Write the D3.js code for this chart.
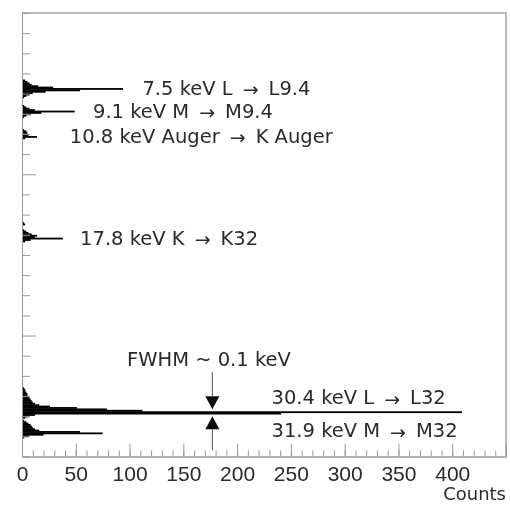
<!DOCTYPE html>
<html>
<head>
<meta charset="utf-8">
<script src="https://cdn.jsdelivr.net/npm/d3@7"></script>
<style>
  body { margin: 0; background: #fff; }
  svg text { font-family: "DejaVu Sans", sans-serif; fill: #2a2a2a; }
  svg .tick text { font-family: "Liberation Sans", Arial, sans-serif; }
</style>
</head>
<body>
<svg width="510" height="505"></svg>
<script>
"use strict";

/* Peak data: histogram bins of 0.1 keV, energy increases downwards */
const binWidth = 0.1;
const peakNames   = ["7.5 keV L", "9.1 keV M", "10.8 keV Auger", "17.8 keV K", "30.4 keV L", "31.9 keV M"];
const peakTargets = ["L9.4", "M9.4", "K Auger", "K32", "L32", "M32"];
const peakLine    = [7.5, 9.1, 10.9, 18.1, 30.4, 31.9];   // energy of the tallest bin
const peakStart   = [6.9, 8.7, 10.4, 17.0, 28.7, 31.0];   // energy of the first bin
const peakCounts  = [
  [3, 5, 7, 9, 15, 29, 94, 54, 22, 10, 7, 4, 2],
  [2, 4, 7, 12, 49, 18, 8, 4, 2],
  [2, 4, 5, 5, 6, 14, 3],
  [2, 3, 1, 0, 0, 2, 4, 6, 9, 14, 12, 38, 8, 3],
  [2, 3, 3, 4, 5, 5, 6, 7, 8, 9, 10, 12, 16, 26, 51, 79, 112, 409, 241, 12, 6, 3],
  [2, 4, 6, 8, 9, 10, 12, 16, 54, 75, 20, 6, 2]
];

const xMajorTicks = [0, 50, 100, 150, 200, 250, 300, 350, 400];
const xTitle = "Counts";
const fwhmText = "FWHM ~ 0.1 keV";
const fwhmCounts = 177;

const plotL = 22, plotR = 506, plotT = 13, plotB = 456.5;

const x = d3.scaleLinear().domain([0, 450]).range([plotL, plotR]);
const y = d3.scaleLinear().domain([2.12, 33.54]).range([plotT, plotB]);

const svg = d3.select("svg");

// soft blur, the original is a low resolution scan
svg.append("defs").append("filter")
  .attr("id", "soft")
  .append("feGaussianBlur")
  .attr("stdDeviation", 0.45);

const g = svg.append("g").attr("filter", "url(#soft)");

// flatten bins
const bins = [];
peakCounts.forEach((arr, p) => {
  arr.forEach((c, i) => {
    bins.push({e: peakStart[p] + i * binWidth, c: c});
  });
});

// frame (top + right)
g.append("path")
  .attr("d", `M${plotL},${plotT}H${plotR}V${plotB}`)
  .attr("fill", "none")
  .attr("stroke", "#b8b8b8")
  .attr("stroke-width", 2);

// histogram bars (slight overlap so neighbouring bins join)
g.append("g").selectAll("rect")
  .data(bins.filter(d => d.c > 0))
  .enter().append("rect")
  .attr("x", x(0))
  .attr("y", d => y(d.e - binWidth / 2) - 0.2)
  .attr("width", d => x(d.c) - x(0))
  .attr("height", d => y(d.e + binWidth / 2) - y(d.e - binWidth / 2) + 0.4)
  .attr("fill", "#000");

// x axis: minor then major ticks (inside)
const xMinor = g.append("g")
  .attr("transform", `translate(0,${plotB})`)
  .call(d3.axisBottom(x).tickValues(d3.range(0, 451, 10)).tickSize(-6).tickFormat(""));
const xAxis = g.append("g")
  .attr("transform", `translate(0,${plotB})`)
  .call(d3.axisBottom(x).tickValues(xMajorTicks).tickSize(-13).tickPadding(10));
[xMinor, xAxis].forEach(a => {
  a.selectAll("path, line").attr("stroke", "#999");
});
xAxis.selectAll("text")
  .style("font-size", "21px")
  .attr("fill", "#333");

// y axis: evenly spaced ticks, no labels
const yDiv = 22;
const [e0, e1] = y.domain();
const yTicks = d3.range(1, yDiv).map(i => e0 + i * (e1 - e0) / yDiv);
const yAxis = g.append("g")
  .attr("transform", `translate(${plotL},0)`)
  .call(d3.axisLeft(y).tickValues(yTicks).tickSize(-8).tickFormat(""));
yAxis.selectAll("path, line").attr("stroke", "#999");
yAxis.selectAll(".tick line")
  .attr("x2", (d, i) => (i + 1) % 8 === 0 ? 14 : 8);

g.append("text")
  .attr("x", plotR)
  .attr("y", 500)
  .attr("text-anchor", "end")
  .style("font-size", "18px")
  .text(xTitle);

// peak labels
const labelCounts = [112, 66, 44.5, 54, 232, 232];
const labelDy = [6, 6, 6, 6, -8, 4];
const labels = g.append("g").style("font-size", "19.5px");
peakNames.forEach((name, i) => {
  const t = labels.append("text")
    .attr("x", x(labelCounts[i]))
    .attr("y", y(peakLine[i]) + labelDy[i]);
  t.append("tspan").text(name);
  t.append("tspan").attr("dx", 10).attr("dy", 1.5).style("font-size", "19px").text("\u2192");
  t.append("tspan").attr("dx", 10).attr("dy", -1.5).text(peakTargets[i]);
});

// FWHM label and arrows
const ax = x(fwhmCounts);
const yl = y(30.4);
g.append("text")
  .attr("x", x(97.6))
  .attr("y", yl - 46)
  .style("font-size", "19.5px")
  .text(fwhmText);
g.append("path")
  .attr("d", `M${ax},${yl - 40}V${yl - 16}M${ax},${yl + 17}V${yl + 38}`)
  .attr("stroke", "#555")
  .attr("stroke-width", 1);
g.append("path")
  .attr("d", `M${ax - 7},${yl - 16}L${ax + 7},${yl - 16}L${ax},${yl - 3}Z`)
  .attr("fill", "#111");
g.append("path")
  .attr("d", `M${ax - 7},${yl + 17}L${ax + 7},${yl + 17}L${ax},${yl + 4}Z`)
  .attr("fill", "#111");
</script>
</body>
</html>
